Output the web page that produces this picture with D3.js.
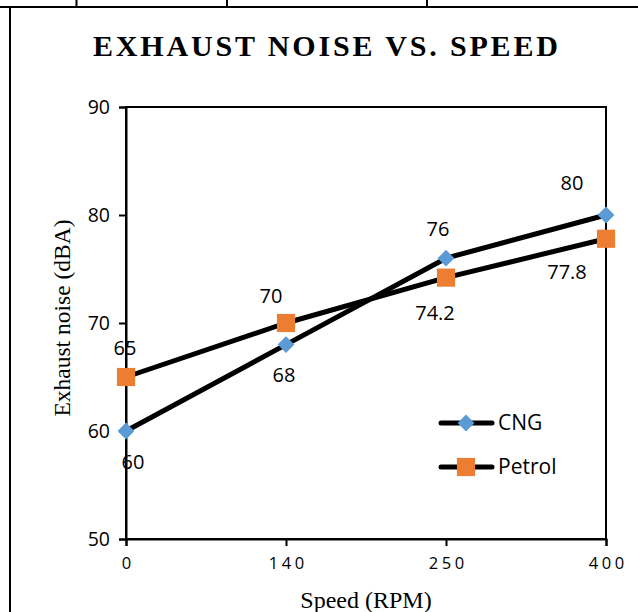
<!DOCTYPE html>
<html><head><meta charset="utf-8">
<script src="https://cdn.jsdelivr.net/npm/d3@7"></script>
<style>html,body{margin:0;padding:0;background:#fff;}svg{display:block;}</style>
</head><body>
<script>
const speeds = ["0", "140", "250", "400"];
const cng = [60, 68, 76, 80];
const petrol = [65, 70, 74.2, 77.8];
const yTicks = [50, 60, 70, 80, 90];
const seriesNames = ["CNG", "Petrol"];
const labelOffsets = {
  CNG: [[7, 31], [-2, 30], [-8, -29], [-34, -32]],
  Petrol: [[-1, -29], [-15, -27], [-11, 35], [-39, 33]]
};

const W = 638, H = 612;
const svg = d3.select("body").append("svg").attr("width", W).attr("height", H);

// page table borders
svg.append("line").attr("x1", 0).attr("x2", W).attr("y1", 7).attr("y2", 7).attr("stroke", "#000").attr("stroke-width", 2);
[76.5, 227, 427].forEach(x => svg.append("line").attr("x1", x).attr("x2", x).attr("y1", 0).attr("y2", 7).attr("stroke", "#000").attr("stroke-width", 2));
svg.append("line").attr("x1", 10).attr("x2", 10).attr("y1", 8).attr("y2", H).attr("stroke", "#000").attr("stroke-width", 2);

const x = d3.scalePoint().domain(speeds).range([126, 606]);
const y = d3.scaleLinear().domain([50, 90]).range([539, 107]);

// title
svg.append("text").attr("x", 93).attr("y", 56)
  .attr("font-family", "'Liberation Serif', serif").attr("font-weight", "bold")
  .attr("font-size", 30).attr("textLength", 465).attr("lengthAdjust", "spacing").attr("fill", "#000")
  .text("EXHAUST NOISE VS. SPEED");

// frame
svg.append("rect").attr("x", 126).attr("y", 107).attr("width", 480).attr("height", 432)
  .attr("fill", "none").attr("stroke", "#000").attr("stroke-width", 2);

// y axis
const yAxis = svg.append("g").attr("transform", "translate(126,0)")
  .call(d3.axisLeft(y).tickValues(yTicks).tickSize(7).tickPadding(9).tickFormat(d3.format("d")));
yAxis.select(".domain").attr("stroke-width", 2);
yAxis.selectAll(".tick line").attr("stroke-width", 2);
yAxis.selectAll("text").attr("font-family", "'Open Sans', sans-serif").attr("font-size", 19.5).attr("fill", "#000");

// x axis
const xAxis = svg.append("g").attr("transform", "translate(0,539)")
  .call(d3.axisBottom(x).tickSize(7).tickPadding(11));
xAxis.select(".domain").attr("stroke-width", 2);
xAxis.selectAll(".tick line").attr("stroke-width", 2);
xAxis.selectAll("text").attr("font-family", "'Open Sans', sans-serif").attr("font-size", 16.5)
  .attr("letter-spacing", 3.5).attr("fill", "#000").attr("dx", 1.75);

// axis titles
svg.append("text").attr("transform", "translate(70,318) rotate(-90)").attr("text-anchor", "middle")
  .attr("font-family", "'Liberation Serif', serif").attr("font-size", 23.5).attr("fill", "#000")
  .text("Exhaust noise (dBA)");
svg.append("text").attr("x", 366).attr("y", 608).attr("text-anchor", "middle")
  .attr("font-family", "'Liberation Serif', serif").attr("font-size", 24).attr("fill", "#000")
  .text("Speed (RPM)");

const series = [
  { name: "CNG", values: cng, color: "#5B9BD5", sym: d3.symbolDiamond2, size: 180 },
  { name: "Petrol", values: petrol, color: "#ED7D31", sym: d3.symbolSquare, size: 330 }
];
const line = d3.line().x((d, i) => x(speeds[i])).y(d => y(d));

series.forEach(s => {
  svg.append("path").datum(s.values).attr("d", line).attr("fill", "none")
    .attr("stroke", "#000").attr("stroke-width", 5).attr("stroke-linejoin", "round").attr("stroke-linecap", "round");
});
series.forEach(s => {
  svg.selectAll(null).data(s.values).enter().append("path")
    .attr("transform", (d, i) => `translate(${x(speeds[i])},${y(d)})`)
    .attr("d", d3.symbol().type(s.sym).size(s.size)).attr("fill", s.color);
  svg.selectAll(null).data(s.values).enter().append("text")
    .attr("x", (d, i) => x(speeds[i]) + labelOffsets[s.name][i][0])
    .attr("y", (d, i) => y(d) + labelOffsets[s.name][i][1])
    .attr("dy", "0.35em").attr("text-anchor", "middle")
    .attr("font-family", "'Open Sans', sans-serif").attr("font-size", 20).attr("fill", "#000")
    .text(d => d);
});

// legend
const legendY = [423, 467];
series.forEach((s, i) => {
  const g = svg.append("g").attr("transform", `translate(0,${legendY[i]})`);
  g.append("line").attr("x1", 441).attr("x2", 492).attr("stroke", "#000").attr("stroke-width", 5).attr("stroke-linecap", "round");
  g.append("path").attr("transform", "translate(466,0)").attr("d", d3.symbol().type(s.sym).size(s.size)).attr("fill", s.color);
  g.append("text").attr("x", 498).attr("dy", "0.35em").attr("font-family", "'Open Sans', sans-serif")
    .attr("font-size", 21).attr("fill", "#000").text(s.name);
});
</script>
</body></html>
